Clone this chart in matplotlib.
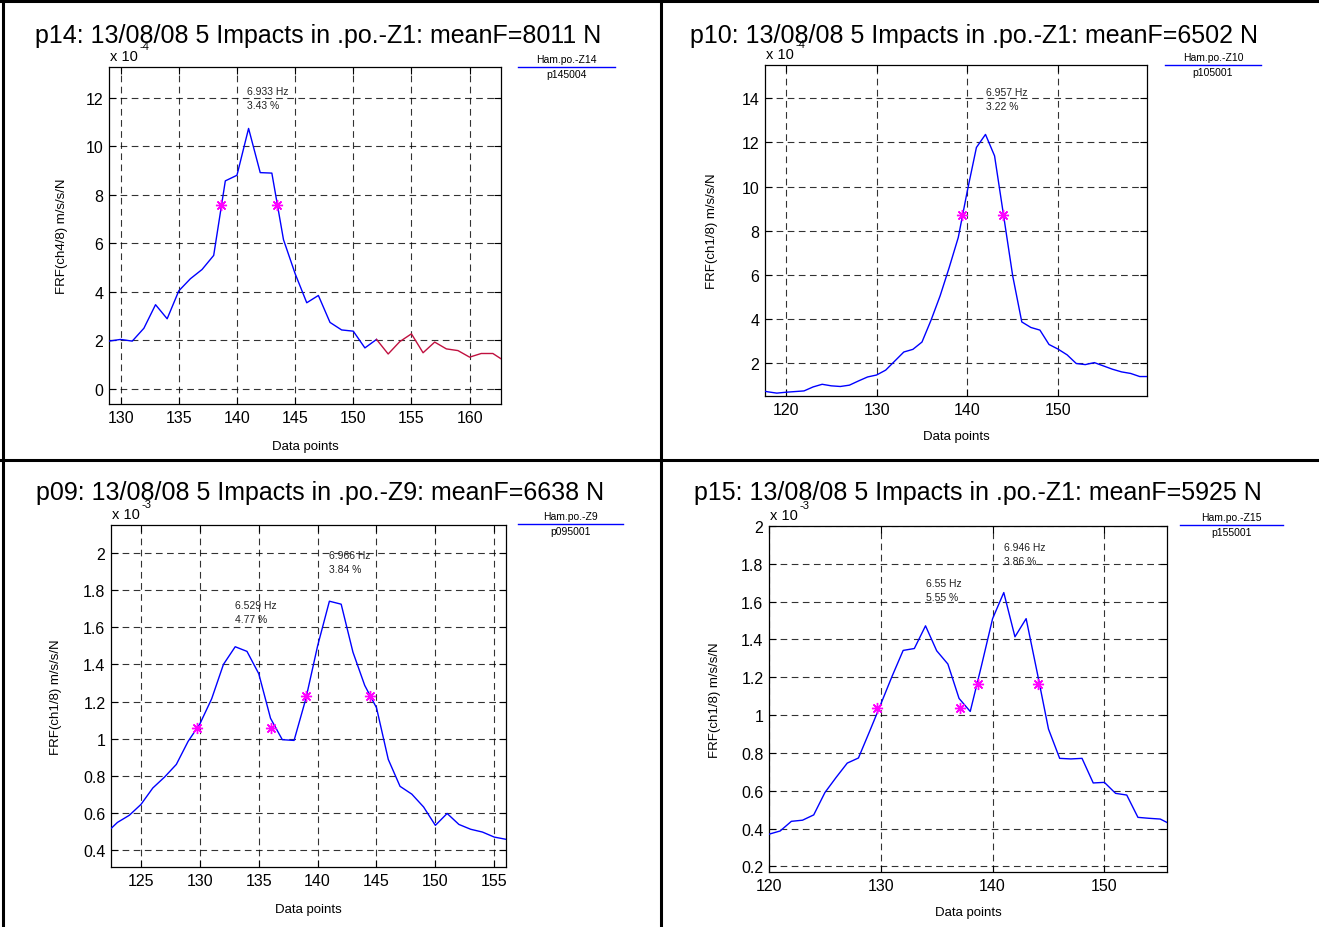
import matplotlib
matplotlib.use("Agg")
import matplotlib.pyplot as plt
from matplotlib.lines import Line2D
import numpy as np

plt.rcParams["font.family"] = ["Liberation Sans", "DejaVu Sans"]

W, H = 1319, 928

# ---- panel data (values in units of the axis multiplier) ----
p14_x = [129, 130, 131, 132, 133, 134, 135, 136, 137, 138, 139, 140, 141, 142, 143, 144, 145, 146,
         147, 148, 149, 150, 151, 152]
p14_y = [1.97, 2.04, 1.97, 2.5, 3.47, 2.89, 4.04, 4.54, 4.92, 5.5, 8.57, 8.8, 10.73, 8.91, 8.89,
         6.15, 4.75, 3.55, 3.85, 2.74, 2.43, 2.38, 1.69, 2.04]
p14_red_x = [152, 153, 154, 155, 156, 157, 158, 159, 160, 161, 162, 163]
p14_red_y = [2.04, 1.44, 1.95, 2.27, 1.49, 1.93, 1.65, 1.58, 1.31, 1.46, 1.46, 1.15]
p14_star_x = [138.65, 143.45]
p14_star_y = [7.57, 7.57]

p10_x = list(range(117, 161))
p10_y = [0.8, 0.72, 0.66, 0.70, 0.73, 0.76, 0.94, 1.06, 0.99, 0.96, 1.02, 1.21, 1.39, 1.48, 1.70,
         2.11, 2.52, 2.64, 2.97, 3.96, 5.06, 6.34, 7.70, 9.81, 11.77, 12.36, 11.39, 8.68, 5.96,
         3.88, 3.63, 3.51, 2.86, 2.65, 2.39, 2.0, 1.95, 2.04, 1.89, 1.74, 1.62, 1.55, 1.41, 1.41]
p10_star_x = [139.4, 143.9]
p10_star_y = [8.73, 8.73]

p09_x = list(range(122, 157))
p09_y = [0.49, 0.55, 0.588, 0.647, 0.735, 0.794, 0.862, 0.986, 1.08, 1.215, 1.40, 1.495, 1.47,
         1.35, 1.11, 0.995, 0.991, 1.215, 1.50, 1.74, 1.724, 1.466, 1.287, 1.167, 0.889, 0.744,
         0.702, 0.633, 0.534, 0.598, 0.539, 0.513, 0.498, 0.471, 0.459]
p09_star_x = [129.76, 136.05, 139.05, 144.43]
p09_star_y = [1.057, 1.057, 1.229, 1.229]

p15_x = list(range(120, 157))
p15_y = [0.37, 0.387, 0.438, 0.444, 0.472, 0.59, 0.67, 0.746, 0.773, 0.914, 1.058, 1.204, 1.342,
         1.352, 1.472, 1.34, 1.27, 1.088, 1.019, 1.26, 1.51, 1.648, 1.414, 1.51, 1.222, 0.926,
         0.771, 0.768, 0.771, 0.641, 0.644, 0.586, 0.577, 0.459, 0.454, 0.45, 0.42]
p15_star_x = [129.64, 137.1, 138.73, 144.1]
p15_star_y = [1.037, 1.037, 1.164, 1.164]

titles = ["p14: 13/08/08 5 Impacts in .po.-Z1: meanF=8011 N",
          "p10: 13/08/08 5 Impacts in .po.-Z1: meanF=6502 N",
          "p09: 13/08/08 5 Impacts in .po.-Z9: meanF=6638 N",
          "p15: 13/08/08 5 Impacts in .po.-Z1: meanF=5925 N"]
ylabels = ["FRF(ch4/8) m/s/s/N", "FRF(ch1/8) m/s/s/N", "FRF(ch1/8) m/s/s/N", "FRF(ch1/8) m/s/s/N"]
exponents = ["-4", "-4", "-3", "-3"]
legend_top = ["Ham.po.-Z14", "Ham.po.-Z10", "Ham.po.-Z9", "Ham.po.-Z15"]
legend_bot = ["p145004", "p105001", "p095001", "p155001"]
peak_notes = [[(140.9, 12.0, "6.933 Hz\n3.43 %")],
              [(142.1, 13.95, "6.957 Hz\n3.22 %")],
              [(133.0, 1.68, "6.529 Hz\n4.77 %"), (141.0, 1.95, "6.966 Hz\n3.84 %")],
              [(134.0, 1.66, "6.55 Hz\n5.55 %"), (141.05, 1.85, "6.946 Hz\n3.86 %")]]

# axes boxes in pixels: left, top, right, bottom
boxes = [(109, 68, 501, 405), (765, 66, 1147, 397), (111, 526, 506, 868), (769, 527, 1167, 873)]
xlims = [(129, 162.7), (117.7, 159.8), (122.45, 156.0), (120, 155.6)]
ylims = [(-0.62, 13.26), (0.53, 15.5), (0.31, 2.15), (0.17, 2.0)]
xticks = [np.arange(130, 161, 5), np.arange(120, 151, 10), np.arange(125, 156, 5), np.arange(120, 151, 10)]
yticks = [np.arange(0, 13, 2), np.arange(2, 15, 2), np.arange(0.4, 2.01, 0.2), np.arange(0.2, 2.01, 0.2)]
title_pos = [(35, 36), (690, 36), (36, 493), (694, 493)]
legend_line = [(518, 615, 68), (1165, 1261, 66), (518, 623, 525), (1180, 1283, 526)]
xlabel_y = [447, 437, 910, 913]
ylabel_x = [62, 712, 56, 715]

series = [(p14_x, p14_y, p14_star_x, p14_star_y), (p10_x, p10_y, p10_star_x, p10_star_y),
          (p09_x, p09_y, p09_star_x, p09_star_y), (p15_x, p15_y, p15_star_x, p15_star_y)]


def fx(px):
    return px / W


def fy(py):
    return 1 - py / H


fig = plt.figure(figsize=(W / 100, H / 100), dpi=100)

for i, (l, t, r, b) in enumerate(boxes):
    ax = fig.add_axes([fx(l), fy(b), (r - l) / W, (b - t) / H])
    xs, ys, sx, sy = series[i]
    ax.plot(xs, ys, color="#0000ff", lw=1.0, zorder=3)
    if i == 0:
        ax.plot(p14_red_x, p14_red_y, color="#c0103f", lw=1.0, zorder=3)
    ax.plot(sx, sy, ls="none", marker=(8, 2, 0), color="#ff00ff", ms=8, mew=1.0, zorder=4)
    for nx, ny, txt in peak_notes[i]:
        ax.text(nx, ny, txt, fontsize=7.5, color="#222222", va="center", ha="left", linespacing=1.5,
                zorder=2)
    ax.set_xlim(*xlims[i])
    ax.set_ylim(*ylims[i])
    ax.set_xticks(xticks[i])
    ax.set_yticks(yticks[i])
    ax.set_yticklabels(["%g" % round(v, 2) for v in yticks[i]])
    ax.tick_params(direction="in", length=5, width=0.8, labelsize=11.5, top=True, right=True, pad=4)
    ax.grid(True, color="black", ls=(0, (6, 4)), lw=0.8, alpha=0.8)
    for sp in ax.spines.values():
        sp.set_linewidth(0.9)
    ax.set_axisbelow(True)

    cx = (l + r) / 2
    fig.text(fx(cx), fy(xlabel_y[i]), "Data points", fontsize=9.5, ha="center", va="center")
    fig.text(fx(ylabel_x[i]), fy((t + b) / 2), ylabels[i], fontsize=9.5, ha="center", va="center",
             rotation=90)
    fig.text(fx(title_pos[i][0]), fy(title_pos[i][1]), titles[i], fontsize=18, ha="left",
             va="center")
    fig.text(fx(l + 1), fy(t - 11), "x 10", fontsize=10.5, ha="left", va="center")
    fig.text(fx(l + 31), fy(t - 21), exponents[i], fontsize=8, ha="left", va="center")

    x0, x1, ly = legend_line[i]
    fig.add_artist(Line2D([fx(x0), fx(x1)], [fy(ly), fy(ly)], color="#0000ff", lw=1.0))
    fig.text(fx((x0 + x1) / 2), fy(ly - 8), legend_top[i], fontsize=7.5, ha="center", va="center")
    fig.text(fx((x0 + x1) / 2), fy(ly + 7), legend_bot[i], fontsize=7.5, ha="center", va="center")

# table borders around the four plots
for xs_, ys_ in [([fx(3), fx(3)], [0, 1]), ([0, 1], [fy(2), fy(2)]), ([fx(661), fx(661)], [0, 1]),
                 ([0, 1], [fy(461), fy(461)])]:
    fig.add_artist(Line2D(xs_, ys_, color="black", lw=2.2))

fig.savefig("out.png", dpi=100)
